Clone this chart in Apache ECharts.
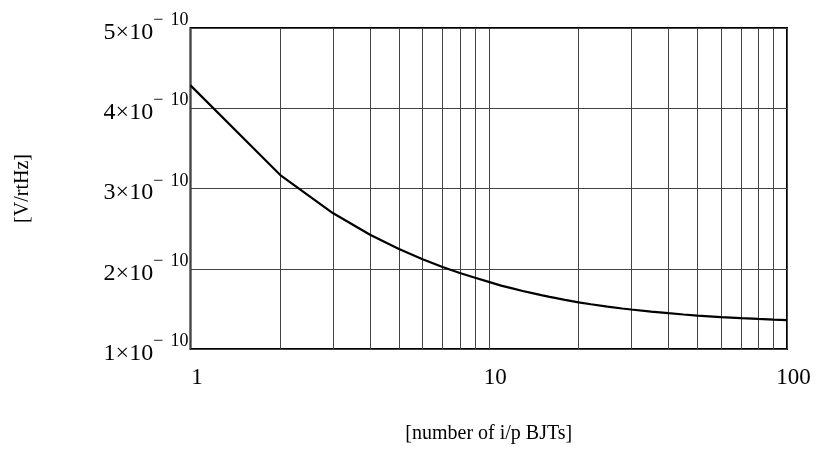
<!DOCTYPE html>
<html>
<head>
<meta charset="utf-8">
<script src="https://cdn.jsdelivr.net/npm/echarts@6/dist/echarts.min.js"></script>
<style>
html,body{margin:0;padding:0;background:#fff;}
#chart{width:816px;height:449px;}
</style>
</head>
<body>
<div id="chart"></div>
<script>
// number of input BJTs (log axis)
var nBJT = [1,2,3,4,5,6,7,8,9,10,11,12,13,14,15,16,17,18,19,20,22,25,28,30,35,40,45,50,60,70,80,90,100];
// noise density in units of 1e-10 V/rtHz
var noiseE10 = [4.285,3.168,2.694,2.423,2.245,2.118,2.022,1.947,1.887,1.837,1.790,1.755,1.723,1.697,1.672,1.650,1.630,1.612,1.596,1.582,1.558,1.528,1.505,1.492,1.466,1.446,1.430,1.417,1.398,1.385,1.375,1.367,1.361];
// tick values
var yTicks = [1,2,3,4,5];
var xMinorGrid = [2,3,4,5,6,7,8,9,20,30,40,50,60,70,80,90];

var serif = '"Liberation Serif","DejaVu Serif",serif';
var gridColor = '#444';

var chart = echarts.init(document.getElementById('chart'));
var pts = nBJT.map(function(n,i){return [n, noiseE10[i]];});

chart.setOption({
  animation:false,
  backgroundColor:'#fff',
  grid:{left:190.5,right:29,top:28,bottom:96,show:true,borderColor:'#000',borderWidth:2,backgroundColor:'transparent'},
  xAxis:{
    type:'log',logBase:10,min:1,max:100,
    axisLine:{show:false},axisTick:{show:false},
    splitLine:{show:true,lineStyle:{color:gridColor,width:1}},
    axisLabel:{fontFamily:serif,fontSize:23,color:'#000',margin:17,padding:[0,0,0,13]},
    name:'[number of i/p BJTs]',nameLocation:'middle',nameGap:75,
    nameTextStyle:{fontFamily:serif,fontSize:20,color:'#000',verticalAlign:'top'}
  },
  yAxis:{
    type:'value',min:yTicks[0],max:yTicks[yTicks.length-1],interval:1,
    axisLine:{show:false},axisTick:{show:false},
    splitLine:{show:true,lineStyle:{color:gridColor,width:1}},
    axisLabel:{
      margin:2,
      formatter:function(v){return '{m|'+v+'×10}{s|−\u2009\u200910}';},
      rich:{
        m:{fontFamily:serif,fontSize:24,color:'#000',lineHeight:33,verticalAlign:'bottom'},
        s:{fontFamily:serif,fontSize:18,color:'#000',lineHeight:18,verticalAlign:'top'}
      }
    },
    name:'[V/rtHz]',nameLocation:'middle',nameRotate:90,nameGap:158,
    nameTextStyle:{fontFamily:serif,fontSize:20,color:'#000'}
  },
  series:[{
    type:'line',data:pts,showSymbol:false,smooth:false,
    lineStyle:{color:'#000',width:2.2},
    markLine:{
      silent:true,symbol:['none','none'],label:{show:false},
      lineStyle:{color:gridColor,width:1,type:'solid'},
      animation:false,
      data:xMinorGrid.map(function(x){return {xAxis:x};})
    },
    z:5
  }]
});
</script>
</body>
</html>
